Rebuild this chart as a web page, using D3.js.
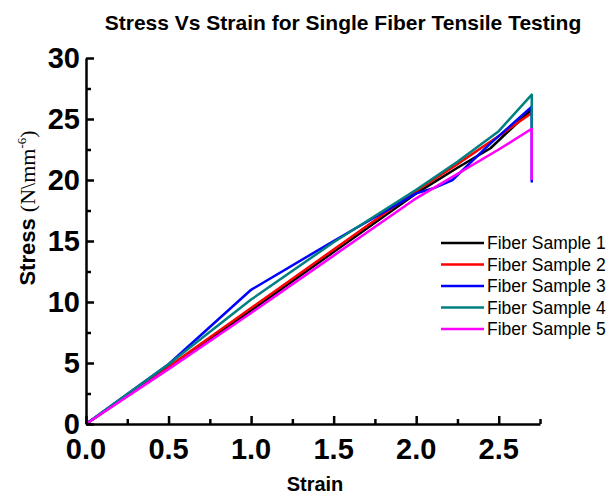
<!DOCTYPE html>
<html>
<head>
<meta charset="utf-8">
<script src="https://cdn.jsdelivr.net/npm/d3@7"></script>
<style>
  body { margin: 0; background: #fff; }
  svg { display: block; }
</style>
</head>
<body>
<svg id="chart"></svg>
<script>
// Stress vs strain chart.

const width = 613;
const height = 496;

// data
const strainTicks = [0, 0.5, 1.0, 1.5, 2.0, 2.5];
const stressTicks = [0, 5, 10, 15, 20, 25, 30];

const sampleNames = ["Fiber Sample 1", "Fiber Sample 2", "Fiber Sample 3", "Fiber Sample 4", "Fiber Sample 5"];
const sampleColors = ["#000000", "#ff0000", "#0000ff", "#008080", "#ff00ff"];

const strain1 = [0, 0.5, 1.0, 1.5, 2.0, 2.25, 2.45, 2.7];
const stress1 = [0, 4.6, 9.3, 14.1, 18.9, 21.0, 22.6, 25.8];

const strain2 = [0, 0.5, 1.0, 1.5, 2.0, 2.25, 2.5, 2.7];
const stress2 = [0, 4.7, 9.5, 14.3, 19.1, 21.3, 23.6, 25.5];

const strain3 = [0, 0.5, 1.0, 1.5, 2.0, 2.1, 2.22, 2.45, 2.7, 2.7];
const stress3 = [0, 4.9, 11.0, 15.0, 18.9, 19.3, 20.0, 23.0, 26.0, 19.8];

const strain4 = [0, 0.5, 1.0, 1.5, 2.0, 2.25, 2.5, 2.7, 2.7];
const stress4 = [0, 4.9, 10.2, 14.9, 19.2, 21.5, 24.0, 27.0, 24.2];

const strain5 = [0, 0.5, 1.0, 1.5, 2.0, 2.25, 2.5, 2.7, 2.7];
const stress5 = [0, 4.5, 9.1, 13.8, 18.5, 20.5, 22.5, 24.2, 20.0];

const strainSets = [strain1, strain2, strain3, strain4, strain5];
const stressSets = [stress1, stress2, stress3, stress4, stress5];

const svg = d3.select("#chart").attr("width", width).attr("height", height);

const x = d3.scaleLinear().domain([0, 2.75]).range([86, 540]);
const y = d3.scaleLinear().domain([0, 30]).range([424, 58]);

// title
svg.append("text")
  .attr("x", 343).attr("y", 30)
  .attr("text-anchor", "middle")
  .style("font-family", "Liberation Sans, Arial, sans-serif")
  .style("font-weight", "bold")
  .style("font-size", "21px")
  .text("Stress Vs Strain for Single Fiber Tensile Testing");

// lines
const line = d3.line().x(d => x(d[0])).y(d => y(d[1]));
const plot = svg.append("g");
strainSets.forEach((xs, i) => {
  const pts = xs.map((v, j) => [v, stressSets[i][j]]);
  plot.append("path")
    .datum(pts)
    .attr("d", line)
    .attr("fill", "none")
    .attr("stroke", sampleColors[i])
    .attr("stroke-width", 2.5)
    .attr("stroke-linejoin", "round");
});

// axes, ticks pointing inward
const xAxis = d3.axisTop(x)
  .tickValues(d3.range(0, 2.76, 0.25))
  .tickSize(8)
  .tickSizeOuter(0)
  .tickFormat("");
const gx = svg.append("g").attr("transform", `translate(0,${y(0)})`).call(xAxis);
gx.selectAll(".tick line")
  .attr("y2", (d, i) => i % 2 === 0 ? -8 : -5);

const yAxis = d3.axisRight(y)
  .tickValues(d3.range(0, 30.1, 2.5))
  .tickSize(8)
  .tickSizeOuter(0)
  .tickFormat("");
const gy = svg.append("g").attr("transform", `translate(${x(0)},0)`).call(yAxis);
gy.selectAll(".tick line")
  .attr("x2", (d, i) => i % 2 === 0 ? 8 : 5);

[gx, gy].forEach(g => {
  g.select(".domain").attr("stroke", "#000").attr("stroke-width", 2.5);
  g.selectAll(".tick line").attr("stroke", "#000").attr("stroke-width", 2.5);
});

// tick labels
svg.append("g").selectAll("text")
  .data(strainTicks)
  .join("text")
  .attr("x", d => x(d))
  .attr("y", 459)
  .attr("text-anchor", "middle")
  .style("font-family", "Liberation Sans, Arial, sans-serif")
  .style("font-weight", "bold")
  .style("font-size", "29px")
  .text(d => d.toFixed(1));

svg.append("g").selectAll("text")
  .data(stressTicks)
  .join("text")
  .attr("x", 80)
  .attr("y", d => y(d) + 10)
  .attr("text-anchor", "end")
  .style("font-family", "Liberation Sans, Arial, sans-serif")
  .style("font-weight", "bold")
  .style("font-size", "29px")
  .text(d => d);

// axis titles
svg.append("text")
  .attr("x", 315).attr("y", 491)
  .attr("text-anchor", "middle")
  .style("font-family", "Liberation Sans, Arial, sans-serif")
  .style("font-weight", "bold")
  .style("font-size", "20px")
  .text("Strain");

const yLabel = svg.append("text")
  .attr("transform", "translate(35,208) rotate(-90)")
  .attr("text-anchor", "middle")
  .style("font-size", "22px");
yLabel.append("tspan")
  .style("font-family", "Liberation Sans, Arial, sans-serif")
  .style("font-weight", "bold")
  .text("Stress ");
yLabel.append("tspan")
  .style("font-family", "Liberation Serif, Times New Roman, serif")
  .text("(N\\mm");
yLabel.append("tspan")
  .style("font-family", "Liberation Serif, Times New Roman, serif")
  .style("font-size", "13px")
  .attr("dy", -9)
  .text("-6");
yLabel.append("tspan")
  .style("font-family", "Liberation Serif, Times New Roman, serif")
  .attr("dy", 9)
  .text(")");

// legend
const legend = svg.append("g").attr("transform", "translate(441,243)");
const rows = legend.selectAll("g")
  .data(sampleNames)
  .join("g")
  .attr("transform", (d, i) => `translate(0,${i * 21.5})`);
rows.append("line")
  .attr("x1", 0).attr("x2", 43)
  .attr("stroke", (d, i) => sampleColors[i])
  .attr("stroke-width", 2.5);
rows.append("text")
  .attr("x", 46).attr("y", 6)
  .style("font-family", "Liberation Sans, Arial, sans-serif")
  .style("font-size", "17.5px")
  .text(d => d);
</script>
</body>
</html>
